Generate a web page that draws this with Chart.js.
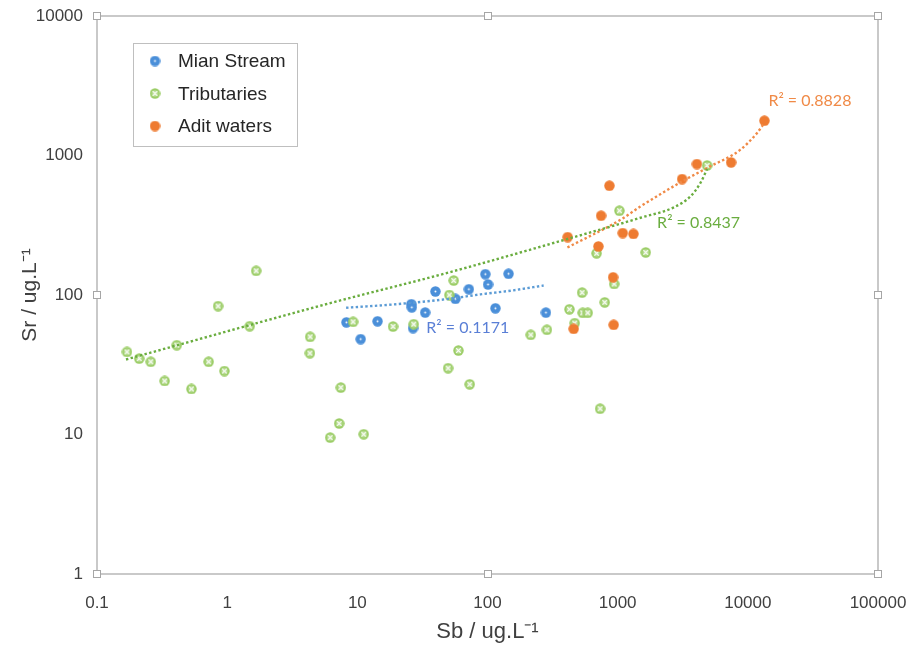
<!DOCTYPE html>
<html><head><meta charset="utf-8">
<script src="https://cdn.jsdelivr.net/npm/chart.js@4.4.1/dist/chart.umd.min.js"></script>
<style>html,body{margin:0;padding:0;background:#fff;}#wrap{width:918px;height:648px;position:relative}</style>
</head><body><div id="wrap"><canvas id="c" width="918" height="648"></canvas></div>
<script>
// ---- data ----
const seriesNames = ['Mian Stream', 'Tributaries', 'Adit waters'];

const mainX = [8.24, 10.6, 14.3, 26.0, 26.2, 26.8, 33.2, 39.8, 56.7, 71.9, 96.3, 101, 145, 115, 281];
const mainY = [63.7, 48.3, 64.8, 86.0, 81.6, 57.9, 74.9, 106, 93.9, 110, 141, 119, 142, 80.3, 74.8];

const tribX = [0.170, 0.211, 0.259, 0.331, 0.410, 0.531, 0.721, 0.852, 0.952, 1.49, 1.67, 4.34, 4.32, 7.47, 7.25, 6.18, 9.28, 11.2, 18.8, 27.1, 50.9, 55.0, 59.8, 49.8, 73.0, 215, 286, 426, 468, 533, 539, 589, 795, 940, 733, 689, 1642, 1031, 4864];
const tribY = [39.1, 35.0, 33.2, 24.2, 43.7, 21.2, 33.2, 83.3, 28.5, 59.8, 149, 50.1, 38.3, 21.7, 12.0, 9.5, 64.2, 10.05, 59.4, 61.8, 100, 127, 40.0, 29.9, 22.9, 51.8, 56.3, 79.0, 62.9, 104, 74.5, 74.5, 88.6, 120, 15.3, 199, 202, 402, 848];

const aditX = [413, 711, 746, 864, 1093, 1321, 922, 932, 459, 3125, 4061, 7435, 13408];
const aditY = [260, 223, 370, 607, 278, 274, 134, 61.1, 57.2, 678, 869, 892, 1776];

// trend lines
const trendMainX = [8.2, 20.2, 48.9, 88, 158, 270];
const trendMainY = [81, 86, 93.5, 101, 108, 117];
const trendTribX = [0.167, 6.2, 49, 411, 1500, 2700, 3620, 4320, 4864];
const trendTribY = [34.5, 87.5, 144, 252, 358, 425, 509, 635, 800];
const trendAditX = [411, 1050, 1495, 3125, 4864, 8770, 11780, 13400];
const trendAditY = [219, 346, 431, 652, 814, 1101, 1450, 1710];

const r2Text = ['R\u00B2 = 0.1171', 'R\u00B2 = 0.8437', 'R\u00B2 = 0.8828'];
const r2AnchorX = [33.9, 2009, 14390];
const r2AnchorY = [58.2, 328, 2485];

const xTicks = [0.1, 1, 10, 100, 1000, 10000, 100000];
const yTicks = [1, 10, 100, 1000, 10000];
const xTitle = 'Sb / ug.L\u207B\u00B9';
const yTitle = 'Sr / ug.L\u207B\u00B9';

// ---- styles ----
const C_BLUE = '#4a8fd9', C_GREEN = '#9bcd66', C_ORANGE = '#ee7b31';
const T_BLUE = '#5b9bd5', T_GREEN = '#6aad3f', T_ORANGE = '#f08a47';

function marker(kind) {
  const s = 11, c = document.createElement('canvas');
  c.width = s; c.height = s;
  const g = c.getContext('2d');
  const r = 5.2, m = s / 2;
  g.beginPath(); g.arc(m, m, r, 0, Math.PI * 2);
  g.fillStyle = kind === 0 ? C_BLUE : kind === 1 ? C_GREEN : C_ORANGE;
  g.fill();
  if (kind === 0) {
    g.beginPath(); g.arc(m, m, 1, 0, Math.PI * 2); g.fillStyle = '#ffffff'; g.fill();
  } else if (kind === 1) {
    g.beginPath(); g.arc(m, m, 3.2, 0, Math.PI * 2); g.fillStyle = '#b8dc93'; g.fill();
    g.strokeStyle = '#ffffff'; g.lineWidth = 1.2;
    g.beginPath(); g.moveTo(m - 2.3, m - 2.3); g.lineTo(m + 2.3, m + 2.3);
    g.moveTo(m + 2.3, m - 2.3); g.lineTo(m - 2.3, m + 2.3); g.stroke();
  }
  return c;
}
const markers = [marker(0), marker(1), marker(2)];

const zip = (xs, ys) => xs.map((x, i) => ({ x: x, y: ys[i] }));

function trend(xs, ys, color) {
  return {
    type: 'line', data: zip(xs, ys), showLine: true, borderColor: color,
    borderWidth: 2.4, borderDash: [2.4, 2.4], pointRadius: 0, fill: false,
    cubicInterpolationMode: 'monotone', order: 0
  };
}

const framePlugin = {
  id: 'frame',
  beforeDatasetsDraw(chart) {
    const a = chart.chartArea, ctx = chart.ctx;
    ctx.save();
    ctx.strokeStyle = '#bcbcbc'; ctx.lineWidth = 1.6;
    ctx.strokeRect(a.left, a.top, a.right - a.left, a.bottom - a.top);
    ctx.restore();
  },
  afterDraw(chart) {
    const a = chart.chartArea, ctx = chart.ctx;
    ctx.save();
    // selection handles
    const mx = (a.left + a.right) / 2, my = (a.top + a.bottom) / 2;
    const hs = [[a.left, a.top], [mx, a.top], [a.right, a.top], [a.left, my], [a.right, my], [a.left, a.bottom], [mx, a.bottom], [a.right, a.bottom]];
    ctx.fillStyle = '#ffffff'; ctx.strokeStyle = '#a6a6a6'; ctx.lineWidth = 1;
    hs.forEach(h => { ctx.fillRect(Math.round(h[0]) - 3.5, Math.round(h[1]) - 3.5, 7, 7); ctx.strokeRect(Math.round(h[0]) - 3.5, Math.round(h[1]) - 3.5, 7, 7); });

    // R² labels
    const xs = chart.scales.x, ys = chart.scales.y;
    const cols = ['#5a7fd6', T_GREEN, T_ORANGE];
    ctx.font = '16px Lato, "Open Sans", sans-serif';
    ctx.textBaseline = 'middle'; ctx.textAlign = 'left';
    r2Text.forEach((t, i) => {
      ctx.fillStyle = cols[i];
      ctx.fillText(t, xs.getPixelForValue(r2AnchorX[i]), ys.getPixelForValue(r2AnchorY[i]));
    });

    // legend box
    const lx = a.left + 36, ly = a.top + 27, lw = 164, lh = 103;
    ctx.fillStyle = '#ffffff'; ctx.fillRect(lx, ly, lw, lh);
    ctx.strokeStyle = '#bfbfbf'; ctx.lineWidth = 1; ctx.strokeRect(lx + 0.5, ly + 0.5, lw, lh);
    ctx.font = '19px "Liberation Sans", Arial, sans-serif';
    ctx.fillStyle = '#262626';
    seriesNames.forEach((n, i) => {
      const cy = ly + 18 + i * 32.5;
      ctx.drawImage(markers[i], lx + 22 - 5.5, cy - 5.5);
      ctx.fillText(n, lx + 45, cy + 1);
    });
    ctx.restore();
  }
};

const tickFont = { family: '"Liberation Sans", Arial, sans-serif', size: 17 };

new Chart(document.getElementById('c'), {
  type: 'scatter',
  data: {
    datasets: [
      trend(trendMainX, trendMainY, T_BLUE),
      trend(trendTribX, trendTribY, T_GREEN),
      trend(trendAditX, trendAditY, T_ORANGE),
      { label: seriesNames[2], data: zip(aditX, aditY), pointStyle: markers[2], order: 1 },
      { label: seriesNames[1], data: zip(tribX, tribY), pointStyle: markers[1], order: 2 },
      { label: seriesNames[0], data: zip(mainX, mainY), pointStyle: markers[0], order: 3 }
    ]
  },
  options: {
    responsive: false, animation: false, devicePixelRatio: 1,
    layout: { padding: { left: 0, right: 40, top: 16, bottom: 0 } },
    plugins: { legend: { display: false }, tooltip: { enabled: false } },
    scales: {
      x: {
        type: 'logarithmic', min: 0.1, max: 100000,
        afterFit: s => { s.height = 74; s.paddingLeft = 0; s.paddingRight = 0; },
        afterBuildTicks: s => { s.ticks = xTicks.map(v => ({ value: v })); },
        grid: { display: false, drawTicks: false },
        border: { display: false },
        ticks: { autoSkip: false, maxRotation: 0, padding: 19, color: '#404040', font: tickFont, callback: v => String(v) },
        title: { display: true, text: xTitle, color: '#404040', font: { family: '"Liberation Sans", Arial, sans-serif', size: 22 }, padding: { top: 0, bottom: 3 } }
      },
      y: {
        type: 'logarithmic', min: 1, max: 10000,
        afterFit: s => { s.width = 97; s.paddingTop = 0; s.paddingBottom = 0; },
        afterBuildTicks: s => { s.ticks = yTicks.map(v => ({ value: v })); },
        grid: { display: false, drawTicks: false },
        border: { display: false },
        ticks: { autoSkip: false, padding: 14, color: '#404040', font: tickFont, callback: v => String(v) },
        title: { display: true, text: yTitle, color: '#404040', font: { family: '"Liberation Sans", Arial, sans-serif', size: 21 }, padding: { top: 18, bottom: 0 } }
      }
    }
  },
  plugins: [framePlugin]
});
</script>
</body></html>
